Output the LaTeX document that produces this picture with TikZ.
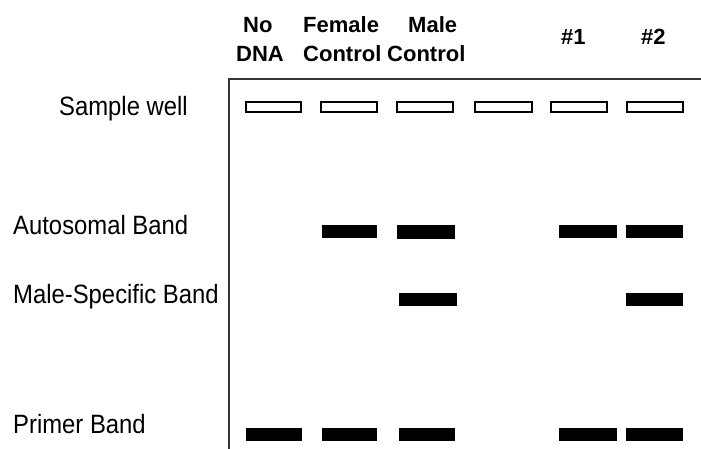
\documentclass[tikz,border=0pt]{standalone}
\usepackage{fontspec}
\setmainfont{Liberation Sans}
\newfontfamily\rowfont[FakeStretch=0.9]{Liberation Sans}
\newfontfamily\headfont{Liberation Sans}
\begin{document}
\begin{tikzpicture}[x=1pt,y=-1pt,
  rowlabel/.style={anchor=base west,inner sep=0pt,font=\rowfont\fontsize{26.5}{30}\selectfont},
  lanehead/.style={anchor=base west,inner sep=0pt,font=\headfont\bfseries\fontsize{22}{26}\selectfont},
  gelframe/.style={draw=black!80,line width=1.5pt},
  well/.style={draw=black,line width=2pt,fill=white},
  band/.style={fill=black}]
\useasboundingbox (0,0) rectangle (701,449);

% lane headings
\node[lanehead] (h1a) at (243,33) {No};
\node[lanehead] (h1b) at (236,62) {DNA};
\node[lanehead] (h2a) at (303,33) {Female};
\node[lanehead] (h2b) at (303,62) {Control};
\node[lanehead] (h3a) at (408,33) {Male};
\node[lanehead] (h3b) at (387,62) {Control};
\node[lanehead] (h5) at (561,45) {\#1};
\node[lanehead] (h6) at (641,45) {\#2};

% row labels
\node[rowlabel] (lwell) at (59,116) {Sample well};
\node[rowlabel] (lauto) at (13,234) {Autosomal Band};
\node[rowlabel] (lmale) at (13,303) {Male-Specific Band};
\node[rowlabel] (lprim) at (13,433) {Primer Band};

% gel outline
\draw[gelframe] (229,449) -- (229,79) -- (701,79);

% sample wells
\foreach \a/\b in {246/301,321/377,397/453,475/532,551/607,627/683}
  \draw[well] (\a,102.5) rectangle (\b,112.5);

% autosomal band
\fill[band] (322,225) rectangle (377,238);
\fill[band] (397,225) rectangle (455,239);
\fill[band] (559,225) rectangle (617,238);
\fill[band] (626,225) rectangle (683,238);

% male-specific band
\fill[band] (399,293) rectangle (457,306);
\fill[band] (626,293) rectangle (683,306);

% primer band
\foreach \a/\b in {246/302,322/377,399/455,559/617,626/683}
  \fill[band] (\a,428) rectangle (\b,441);
\end{tikzpicture}
\end{document}
